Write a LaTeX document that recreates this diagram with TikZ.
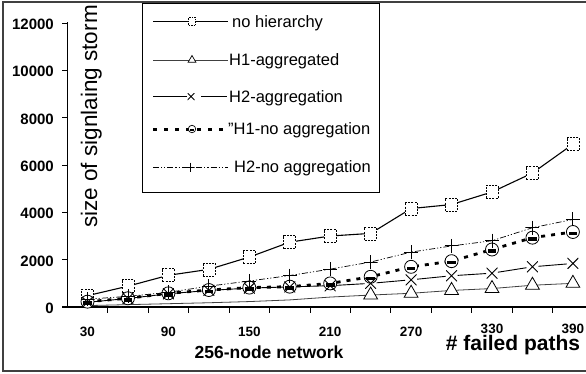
\documentclass[tikz,border=0pt]{standalone}
\usepackage{fontspec}
\setmainfont{Liberation Sans}
\usetikzlibrary{shapes.geometric,calc}
\begin{document}
\begin{tikzpicture}[x=1pt,y=-1pt,
  frameline/.style={line width=1.1pt, black!75},
  axisline/.style={line width=0.9pt},
  xaxisline/.style={line width=1.7pt},
  tickline/.style={line width=0.9pt},
  nhline/.style={line width=1.1pt},
  haline/.style={line width=0.8pt, black!75},
  h2aline/.style={line width=0.9pt},
  h1nline/.style={line width=2.8pt, dash pattern=on 4pt off 6pt},
  h2nline/.style={line width=0.7pt, dash pattern=on 6pt off 2pt on 1.2pt off 2pt on 1.2pt off 2pt},
  sqmark/.style={rectangle, draw, fill=white, line width=0.7pt, dash pattern=on 2pt off 1.2pt, minimum width=12pt, minimum height=13pt, inner sep=0pt},
  trimark/.style={regular polygon, regular polygon sides=3, draw, fill=white, line width=0.8pt, minimum size=16pt, inner sep=0pt},
  circmark/.style={circle, draw, fill=white, line width=0.8pt, minimum size=13pt, inner sep=0pt},
  xmark/.style={rectangle, minimum size=11pt, inner sep=0pt,
    path picture={\draw[line width=0.9pt] (path picture bounding box.north west) -- (path picture bounding box.south east) (path picture bounding box.north east) -- (path picture bounding box.south west);}},
  plusmark/.style={rectangle, minimum size=14pt, inner sep=0pt,
    path picture={\draw[line width=0.9pt] (path picture bounding box.north) -- (path picture bounding box.south) (path picture bounding box.west) -- (path picture bounding box.east);}},
  ylab/.style={anchor=base east, inner sep=0pt, font=\fontsize{15}{17}\selectfont\bfseries},
  xlab/.style={anchor=base, inner sep=0pt, font=\fontsize{13.5}{15}\selectfont\bfseries},
  legtext/.style={anchor=base west, inner sep=0pt, font=\fontsize{16.5}{18}\selectfont}
]
\useasboundingbox (0,0) rectangle (586,373);
% outer frame (right side cropped)
\coordinate (f1) at (600,2);
\coordinate (f2) at (3,2);
\coordinate (f3) at (3,371);
\coordinate (f4) at (600,371);
\draw[frameline] (f1) -- (f2) -- (f3) -- (f4);

% axes
\coordinate (yt) at (67.5,22);
\coordinate (o) at (67.5,307);
\coordinate (xl) at (62,307);
\coordinate (xr) at (590,307);
\draw[axisline] (yt) -- (o);
\draw[xaxisline] (xl) -- (xr);
\foreach \v in {0,2000,...,12000} {
  \coordinate (yk\v) at (62,{307-0.023667*\v});
  \coordinate (yk\v b) at (67.5,{307-0.023667*\v});
  \draw[tickline] (yk\v) -- (yk\v b);
  \node[ylab] (yl\v) at (54,{307-0.023667*\v+6.5}) {\v};
}
\foreach \k in {0,...,12} {
  \coordinate (xk\k) at ({107.7+40.45*\k},307);
  \coordinate (xk\k b) at ({107.7+40.45*\k},313);
  \draw[tickline] (xk\k) -- (xk\k b);
}
\foreach \t/\b [count=\i] in {30/336.5,90/336.5,150/336.5,210/336.5,270/336.5,330/333,390/333} {
  \node[xlab] (xlab\t) at ({87.5+80.9*(\i-1)},\b) {\t};
}

% titles
\node[rotate=90, anchor=base, inner sep=0pt, font=\fontsize{22.5}{24}\selectfont] (ytitle) at (97,116.5) {size of signlaing storm};
\node[anchor=base, inner sep=0pt, font=\fontsize{17.5}{19}\selectfont\bfseries] (net) at (269,358.3) {256-node network};
\node[anchor=base, inner sep=0pt, font=\fontsize{21}{24}\selectfont\bfseries] (fp) at (513,350) {\# failed paths};

% data points
\foreach \v [count=\i] in {480,880,1340,1590,2110,2740,3000,3110,4160,4330,4860,5660,6880}
  \coordinate (nh\i) at ({87.5+40.45*(\i-1)},{307-0.023667*\v});
\foreach \v [count=\i] in {60,100,140,180,230,300,420,505,580,700,780,920,1000}
  \coordinate (ha\i) at ({87.5+40.45*(\i-1)},{307-0.023667*\v});
\foreach \v [count=\i] in {200,360,560,700,800,850,900,1000,1150,1320,1430,1700,1840}
  \coordinate (xa\i) at ({87.5+40.45*(\i-1)},{307-0.023667*\v});
\foreach \v [count=\i] in {225,370,578,718,820,860,997,1277,1698,1937,2430,2930,3170}
  \coordinate (cn\i) at ({87.5+40.45*(\i-1)},{307-0.023667*\v});
\foreach \v [count=\i] in {330,450,620,880,1100,1330,1600,1900,2320,2580,2800,3350,3700}
  \coordinate (pn\i) at ({87.5+40.45*(\i-1)},{307-0.023667*\v});

% lines
\draw[nhline] (nh1) foreach \i in {2,...,13} {-- (nh\i)};
\draw[haline] (ha1) foreach \i in {2,...,13} {-- (ha\i)};
\foreach \i [evaluate=\i as \j using int(\i+1)] in {1,...,12}
  \draw[h2aline, shorten <=6pt, shorten >=6pt] (xa\i) -- (xa\j);
\draw[h1nline] (cn1) foreach \i in {2,...,13} {-- (cn\i)};
\draw[h2nline] (pn1) foreach \i in {2,...,13} {-- (pn\i)};

% markers
\foreach \i in {1,...,13} \node[sqmark] (mnh\i) at (nh\i) {};
\foreach \i in {8,...,13} \node[trimark] (mha\i) at (ha\i) {};
\foreach \i in {1,...,13} {
  \node[circmark] (mcn\i) at (cn\i) {};
  \fill ([xshift=-4.3pt,yshift=-3.3pt]mcn\i.center) rectangle ([xshift=4.3pt,yshift=0.2pt]mcn\i.center);
}
\foreach \i in {1,...,13} \node[xmark] (mxa\i) at (xa\i) {};
\foreach \i in {1,...,13} \node[plusmark] (mpn\i) at (pn\i) {};

% legend
\coordinate (lg1) at (142,3);
\coordinate (lg2) at (379,192);
\draw[line width=0.9pt, fill=white] (lg1) rectangle (lg2);

\coordinate (l1a) at (153,21.7); \coordinate (l1b) at (228,21.7);
\draw[nhline] (l1a) -- (l1b);
\node[sqmark, minimum width=7pt, minimum height=8pt, line width=0.6pt, dash pattern=on 1.5pt off 1pt] (lm1) at (192,21.7) {};
\node[legtext] (lt1) at (232,27.6) {no hierarchy};

\coordinate (l2a) at (153,60); \coordinate (l2b) at (228,60);
\draw[haline] (l2a) -- (l2b);
\node[trimark, minimum size=9pt, line width=0.7pt] (lm2) at (192,60) {};
\node[legtext] (lt2) at (229,65.9) {H1-aggregated};

\coordinate (l3a) at (153,96.5); \coordinate (l3b) at (187,96.5);
\coordinate (l3c) at (201,96.5); \coordinate (l3d) at (227,96.5);
\draw[h2aline] (l3a) -- (l3b);
\draw[h2aline] (l3c) -- (l3d);
\node[xmark, minimum size=7pt] (lm3) at (191,96.5) {};
\node[legtext] (lt3) at (229,102.4) {H2-aggregation};

\coordinate (l4a) at (153,129); \coordinate (l4b) at (228,129);
\draw[line width=3pt, dash pattern=on 3.5pt off 7.5pt] (l4a) -- (l4b);
\node[circmark, minimum size=7.5pt, line width=0.7pt] (lm4) at (192,129) {};
\fill ([xshift=-2.4pt,yshift=-1.8pt]lm4.center) rectangle ([xshift=2.4pt,yshift=0.2pt]lm4.center);
\node[legtext] (lt4) at (228,134.9) {"H1-no aggregation};

\coordinate (l5a) at (153,167); \coordinate (l5b) at (228,167);
\draw[h2nline] (l5a) -- (l5b);
\node[plusmark, minimum size=9pt] (lm5) at (190,167) {};
\node[legtext] (lt5) at (234,172.9) {H2-no aggregation};
\end{tikzpicture}
\end{document}
